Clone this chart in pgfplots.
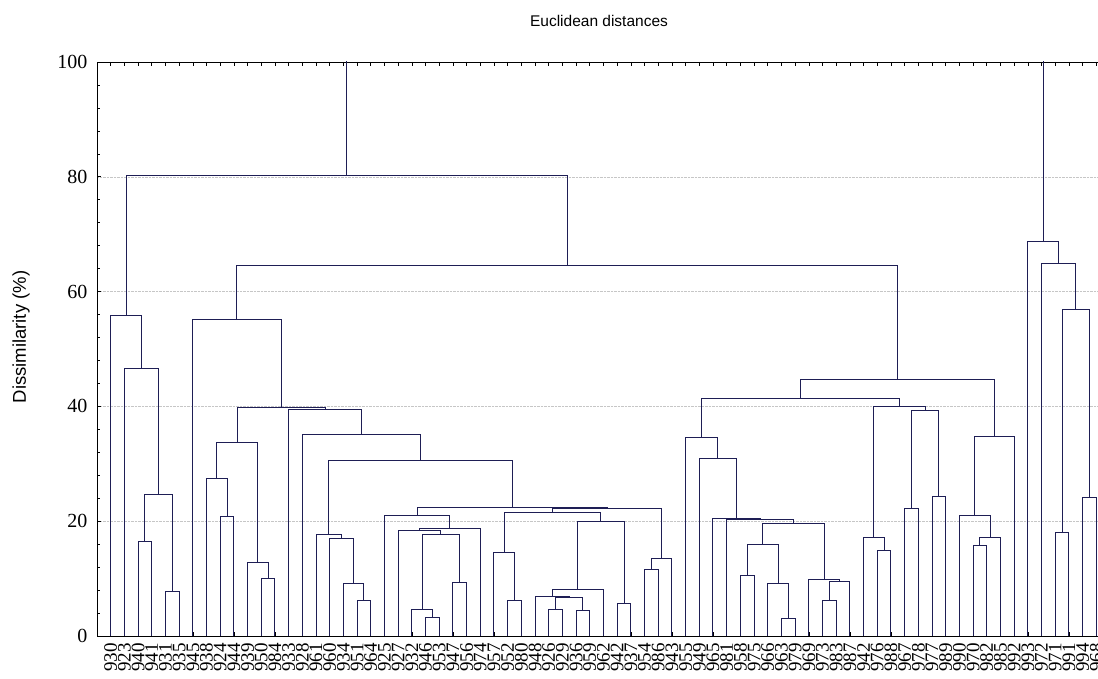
\documentclass[border=0pt]{standalone}
\usepackage{fontspec}
\setmainfont{Liberation Serif}
\newfontfamily\arial{Liberation Sans}
\usepackage{pgfplots}
\pgfplotsset{compat=1.18}
\definecolor{dend}{RGB}{30,30,85}
\begin{document}
\begin{tikzpicture}[x=1pt,y=1pt]
\begin{axis}[
 at={(97pt,43pt)}, anchor=south west,
 scale only axis, width=1013pt, height=574pt,
 xmin=0, xmax=74, ymin=0, ymax=100,
 xtick={1,...,73},
 xticklabels={930,923,940,941,931,935,945,938,924,944,939,950,984,933,928,961,960,934,951,964,925,927,932,946,953,947,956,974,957,952,980,948,926,929,936,959,962,942,937,954,986,943,955,949,965,981,958,975,966,963,979,969,973,983,987,942,976,988,967,978,977,989,990,970,982,985,992,993,972,971,991,994,968},
 xticklabel style={rotate=90, anchor=east, font=\fontsize{19}{20}\selectfont, inner sep=1pt, xshift=-6pt},
 ytick={0,20,...,100}, minor y tick num=4,
 yticklabel style={font=\fontsize{20}{22}\selectfont, xshift=-6pt},
 /pgf/number format/assume math mode=true,
 tick align=inside, xtick pos=both, ytick pos=left,
 major tick length=4pt, minor tick length=3pt,
 tick style={black, line width=0.6pt},
 axis line style={black, line width=0.8pt},
 ymajorgrids, major grid style={densely dotted, gray!45},
 unbounded coords=jump,
]
\addplot[dend, line width=1pt] coordinates {
(3,0)(3,16.4)(4,16.4)(4,0) (nan,nan)
(5,0)(5,7.8)(6,7.8)(6,0) (nan,nan)
(3.5,16.4)(3.5,24.6)(5.5,24.6)(5.5,7.8) (nan,nan)
(2,0)(2,46.6)(4.5,46.6)(4.5,24.6) (nan,nan)
(1,0)(1,55.9)(3.25,55.9)(3.25,46.6) (nan,nan)
(9,0)(9,20.9)(10,20.9)(10,0) (nan,nan)
(8,0)(8,27.4)(9.5,27.4)(9.5,20.9) (nan,nan)
(12,0)(12,10.0)(13,10.0)(13,0) (nan,nan)
(11,0)(11,12.8)(12.5,12.8)(12.5,10.0) (nan,nan)
(8.75,27.4)(8.75,33.7)(11.75,33.7)(11.75,12.8) (nan,nan)
(19,0)(19,6.2)(20,6.2)(20,0) (nan,nan)
(18,0)(18,9.2)(19.5,9.2)(19.5,6.2) (nan,nan)
(17,0)(17,16.9)(18.75,16.9)(18.75,9.2) (nan,nan)
(16,0)(16,17.6)(17.875,17.6)(17.875,16.9) (nan,nan)
(24,0)(24,3.3)(25,3.3)(25,0) (nan,nan)
(23,0)(23,4.6)(24.5,4.6)(24.5,3.3) (nan,nan)
(26,0)(26,9.4)(27,9.4)(27,0) (nan,nan)
(23.75,4.6)(23.75,17.7)(26.5,17.7)(26.5,9.4) (nan,nan)
(22,0)(22,18.4)(25.125,18.4)(25.125,17.7) (nan,nan)
(23.5625,18.4)(23.5625,18.8)(28,18.8)(28,0) (nan,nan)
(21,0)(21,21.0)(25.78125,21.0)(25.78125,18.8) (nan,nan)
(30,0)(30,6.2)(31,6.2)(31,0) (nan,nan)
(29,0)(29,14.6)(30.5,14.6)(30.5,6.2) (nan,nan)
(33,0)(33,4.6)(34,4.6)(34,0) (nan,nan)
(35,0)(35,4.5)(36,4.5)(36,0) (nan,nan)
(33.5,4.6)(33.5,6.7)(35.5,6.7)(35.5,4.5) (nan,nan)
(32,0)(32,6.8)(34.5,6.8)(34.5,6.7) (nan,nan)
(33.25,6.8)(33.25,8.1)(37,8.1)(37,0) (nan,nan)
(38,0)(38,5.7)(39,5.7)(39,0) (nan,nan)
(35.125,8.1)(35.125,20.0)(38.5,20.0)(38.5,5.7) (nan,nan)
(29.75,14.6)(29.75,21.5)(36.8125,21.5)(36.8125,20.0) (nan,nan)
(40,0)(40,11.6)(41,11.6)(41,0) (nan,nan)
(40.5,11.6)(40.5,13.5)(42,13.5)(42,0) (nan,nan)
(33.28125,21.5)(33.28125,22.2)(41.25,22.2)(41.25,13.5) (nan,nan)
(23.390625,21.0)(23.390625,22.4)(37.265625,22.4)(37.265625,22.2) (nan,nan)
(16.9375,17.6)(16.9375,30.5)(30.328125,30.5)(30.328125,22.4) (nan,nan)
(15,0)(15,35.1)(23.6328125,35.1)(23.6328125,30.5) (nan,nan)
(14,0)(14,39.4)(19.31640625,39.4)(19.31640625,35.1) (nan,nan)
(10.25,33.7)(10.25,39.8)(16.658203125,39.8)(16.658203125,39.4) (nan,nan)
(7,0)(7,55.1)(13.4541015625,55.1)(13.4541015625,39.8) (nan,nan)
(50,0)(50,3.1)(51,3.1)(51,0) (nan,nan)
(49,0)(49,9.2)(50.5,9.2)(50.5,3.1) (nan,nan)
(47,0)(47,10.5)(48,10.5)(48,0) (nan,nan)
(47.5,10.5)(47.5,15.9)(49.75,15.9)(49.75,9.2) (nan,nan)
(53,0)(53,6.1)(54,6.1)(54,0) (nan,nan)
(53.5,6.1)(53.5,9.5)(55,9.5)(55,0) (nan,nan)
(52,0)(52,9.9)(54.25,9.9)(54.25,9.5) (nan,nan)
(48.625,15.9)(48.625,19.6)(53.125,19.6)(53.125,9.9) (nan,nan)
(46,0)(46,20.3)(50.875,20.3)(50.875,19.6) (nan,nan)
(45,0)(45,20.4)(48.4375,20.4)(48.4375,20.3) (nan,nan)
(44,0)(44,31.0)(46.71875,31.0)(46.71875,20.4) (nan,nan)
(43,0)(43,34.5)(45.359375,34.5)(45.359375,31.0) (nan,nan)
(57,0)(57,14.9)(58,14.9)(58,0) (nan,nan)
(56,0)(56,17.2)(57.5,17.2)(57.5,14.9) (nan,nan)
(59,0)(59,22.2)(60,22.2)(60,0) (nan,nan)
(61,0)(61,24.3)(62,24.3)(62,0) (nan,nan)
(59.5,22.2)(59.5,39.3)(61.5,39.3)(61.5,24.3) (nan,nan)
(56.75,17.2)(56.75,39.9)(60.5,39.9)(60.5,39.3) (nan,nan)
(44.1796875,34.5)(44.1796875,41.3)(58.625,41.3)(58.625,39.9) (nan,nan)
(64,0)(64,15.7)(65,15.7)(65,0) (nan,nan)
(64.5,15.7)(64.5,17.1)(66,17.1)(66,0) (nan,nan)
(63,0)(63,21.0)(65.25,21.0)(65.25,17.1) (nan,nan)
(64.125,21.0)(64.125,34.7)(67,34.7)(67,0) (nan,nan)
(51.40234375,41.3)(51.40234375,44.7)(65.5625,44.7)(65.5625,34.7) (nan,nan)
(10.22705078,55.1)(10.22705078,64.5)(58.48242188,64.5)(58.48242188,44.7) (nan,nan)
(2.125,55.9)(2.125,80.3)(34.35473633,80.3)(34.35473633,64.5) (nan,nan)
(70,0)(70,18.0)(71,18.0)(71,0) (nan,nan)
(72,0)(72,24.2)(73,24.2)(73,0) (nan,nan)
(70.5,18.0)(70.5,56.9)(72.5,56.9)(72.5,24.2) (nan,nan)
(69,0)(69,64.9)(71.5,64.9)(71.5,56.9) (nan,nan)
(68,0)(68,68.8)(70.25,68.8)(70.25,64.9) (nan,nan)
(18.23986816,80.3)(18.23986816,110)(69.125,110)(69.125,68.8)
};
\end{axis}
\node[font=\arial\fontsize{15.5}{18}\selectfont] at (599pt,658pt) {Euclidean distances};
\node[font=\arial\fontsize{18.5}{21}\selectfont, rotate=90] at (21pt,342pt) {Dissimilarity (\%)};
\pgfresetboundingbox
\useasboundingbox (0,0) rectangle (1098pt,679pt);
\end{tikzpicture}
\end{document}
